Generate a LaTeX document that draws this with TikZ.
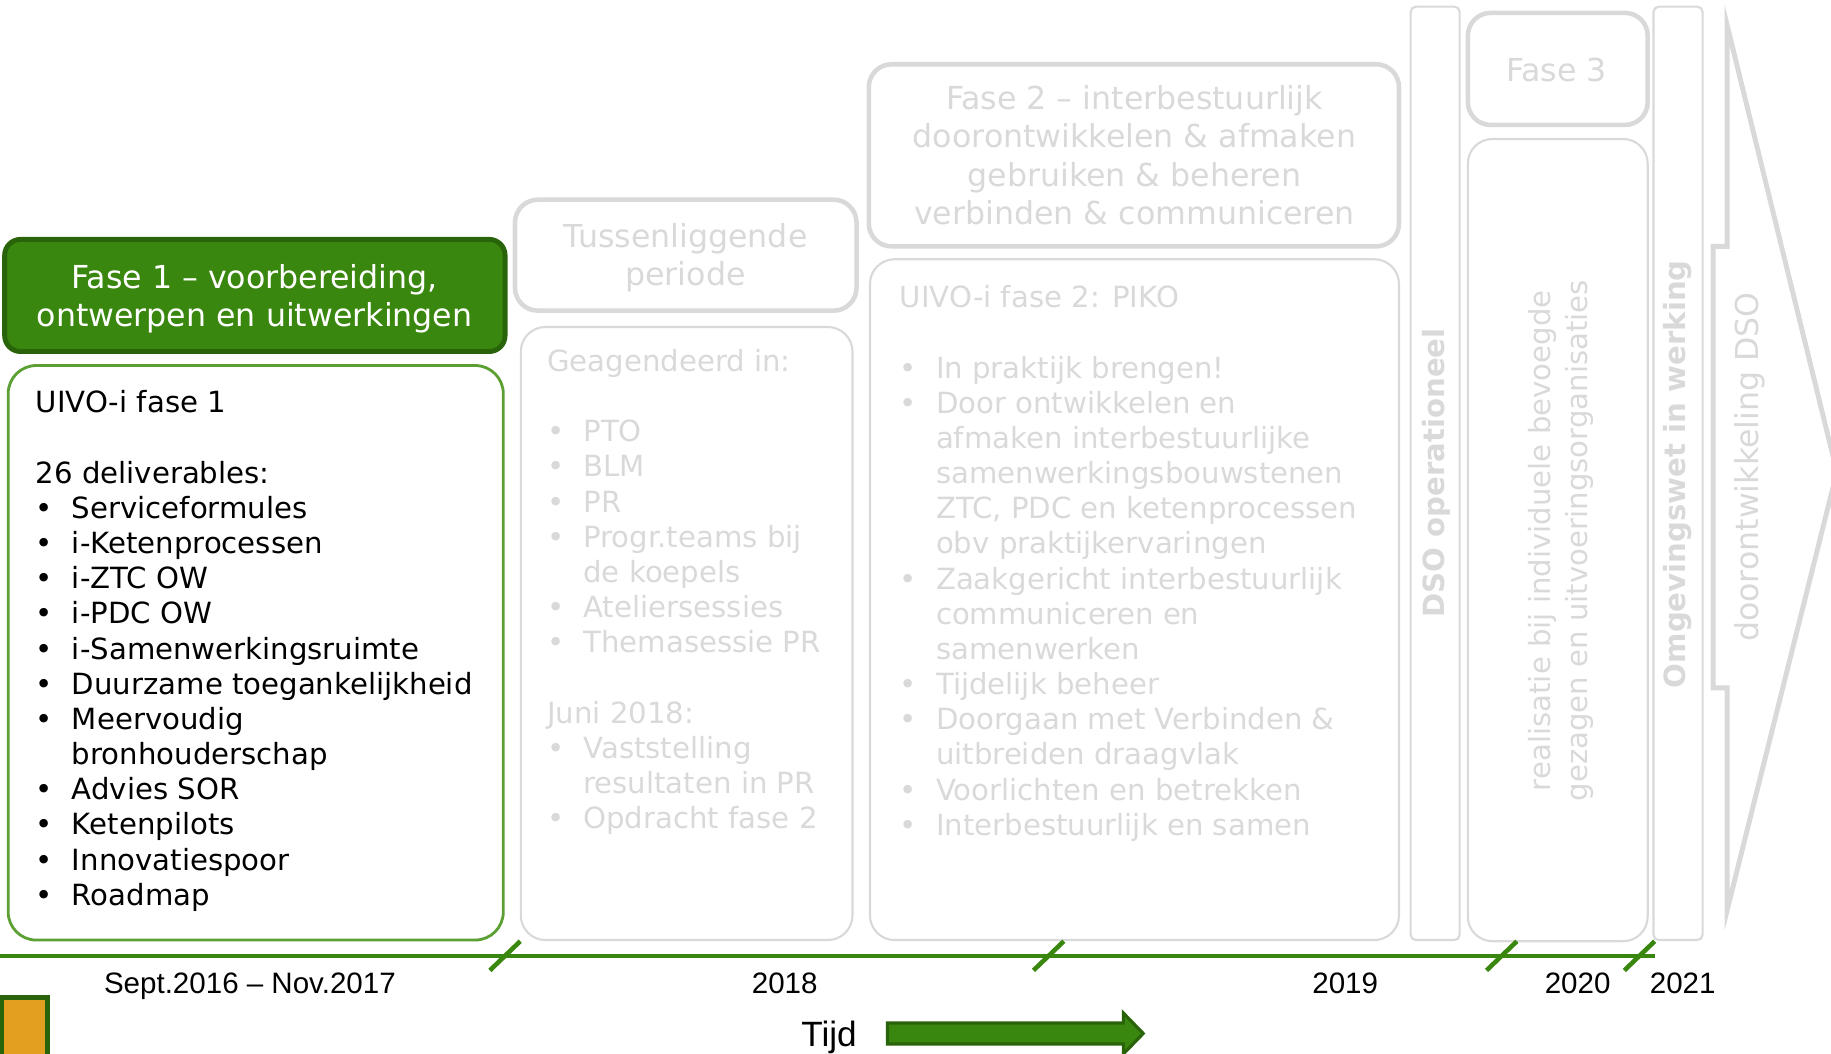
\documentclass[tikz,border=0pt]{standalone}
\usepackage{fontspec}
\setmainfont{DejaVu Sans}
\newfontfamily\arialfont{Liberation Sans}

\definecolor{groen}{RGB}{58,135,15}
\definecolor{donkergroen}{RGB}{42,100,10}
\definecolor{lichtgroen}{RGB}{92,160,52}
\definecolor{grijs}{RGB}{217,217,217}
\definecolor{oranje}{RGB}{227,160,32}

\newcommand{\bol}{\makebox[10.3pt][l]{\textbullet}}
\newcommand{\inspr}{\hspace*{10.3pt}}

\begin{document}
\begin{tikzpicture}[x=0.011677cm, y=-0.011677cm,
    kopgroen/.style={fill=groen, draw=donkergroen, line width=1.4pt, rounded corners=4.5pt},
    vakgroen/.style={draw=lichtgroen, line width=0.8pt, rounded corners=8pt},
    kopgrijs/.style={draw=grijs, line width=1.3pt, rounded corners=6.5pt},
    vakgrijs/.style={draw=grijs, line width=0.6pt, rounded corners=7pt},
    kolom/.style={draw=grijs, line width=0.6pt, rounded corners=1.5pt},
    koptekst/.style={font={\fontsize{9}{10.9}\selectfont}, align=center, inner sep=0pt},
    lijst/.style={font={\fontsize{8.3}{10}\selectfont}, align=left, inner sep=0pt, anchor=north west},
    jaar/.style={font={\arialfont\fontsize{8.4}{10}\selectfont}, anchor=base, inner sep=0pt},
    staand/.style={rotate=90, align=center, inner sep=0pt, text=grijs},
    tijdlijn/.style={draw=groen, line width=1.15pt},
    streep/.style={draw=groen, line width=1.3pt}]

    \useasboundingbox (0,0) rectangle (1568,902);

    % Fase 1
    \draw[kopgroen] (4,205) rectangle (432.5,301);
    \node[koptekst, text=white] (fase1kop) at (218,256) {Fase 1 – voorbereiding,\\ontwerpen en uitwerkingen};
    \draw[vakgroen] (7,313) rectangle (431,805);
    \node[lijst] (fase1lijst) at (30,334) {UIVO-i fase 1\\[10pt]
        26 deliverables:\\
        \bol Serviceformules\\
        \bol i-Ketenprocessen\\
        \bol i-ZTC OW\\
        \bol i-PDC OW\\
        \bol i-Samenwerkingsruimte\\
        \bol Duurzame toegankelijkheid\\
        \bol Meervoudig\\
        \inspr bronhouderschap\\
        \bol Advies SOR\\
        \bol Ketenpilots\\
        \bol Innovatiespoor\\
        \bol Roadmap};

    % Tussenliggende periode
    \draw[kopgrijs] (441,171) rectangle (733.5,266);
    \node[koptekst, text=grijs] (tussenkop) at (587,221) {Tussenliggende\\periode};
    \draw[vakgrijs] (446,280) rectangle (730,805);
    \node[lijst, text=grijs] (tussenlijst) at (468,298.5) {Geagendeerd in:\\[10pt]
        \bol PTO\\
        \bol BLM\\
        \bol PR\\
        \bol Progr.teams bij\\
        \inspr de koepels\\
        \bol Ateliersessies\\
        \bol Themasessie PR\\[10pt]
        Juni 2018:\\
        \bol Vaststelling\\
        \inspr resultaten in PR\\
        \bol Opdracht fase 2};

    % Fase 2
    \draw[kopgrijs] (744,55) rectangle (1198,211);
    \node[koptekst, text=grijs] (fase2kop) at (971.5,133) {Fase 2 – interbestuurlijk\\doorontwikkelen \& afmaken\\gebruiken \& beheren\\verbinden \& communiceren};
    \draw[vakgrijs] (745,222) rectangle (1198,805);
    \node[lijst, text=grijs] (fase2lijst) at (770,244) {UIVO-i fase 2: PIKO\\[10pt]
        \bol In praktijk brengen!\\
        \bol Door ontwikkelen en\\
        \inspr afmaken interbestuurlijke\\
        \inspr samenwerkingsbouwstenen\\
        \inspr ZTC, PDC en ketenprocessen\\
        \inspr obv praktijkervaringen\\
        \bol Zaakgericht interbestuurlijk\\
        \inspr communiceren en\\
        \inspr samenwerken\\
        \bol Tijdelijk beheer\\
        \bol Doorgaan met Verbinden \&\\
        \inspr uitbreiden draagvlak\\
        \bol Voorlichten en betrekken\\
        \bol Interbestuurlijk en samen};

    % DSO operationeel
    \draw[kolom] (1208,5.7) rectangle (1250,805);
    \node[staand, font={\bfseries\fontsize{8.3}{10}\selectfont}] (dso) at (1230,405) {DSO operationeel};

    % Fase 3
    \draw[kopgrijs] (1257,11) rectangle (1411,107);
    \node[koptekst, text=grijs] (fase3kop) at (1333,59.5) {Fase 3};
    \draw[vakgrijs] (1257,119) rectangle (1411,806);
    \node[staand, font={\fontsize{8.3}{10.45}\selectfont}] (realisatie) at (1337,463) {realisatie bij individuele bevoegde\\gezagen en uitvoeringsorganisaties};

    % Omgevingswet in werking
    \draw[kolom] (1416,5.7) rectangle (1458,805);
    \node[staand, font={\bfseries\fontsize{8.3}{10}\selectfont}] (omgwet) at (1437,406) {Omgevingswet in werking};

    % Doorontwikkeling DSO
    \draw[draw=grijs, line width=1.4pt] (1467,211) -- (1479,211) -- (1479,21.5) -- (1573,404) -- (1479,779.5) -- (1479,589) -- (1467,589) -- cycle;
    \node[staand, font={\fontsize{9}{11}\selectfont}] (doorontw) at (1498,400) {doorontwikkeling DSO};

    % Tijdlijn
    \coordinate (begin) at (0,818.7);
    \coordinate (eind) at (1417,818.7);
    \draw[tijdlijn] (begin) -- (eind);
    \draw[streep] (419.5,831) -- (445.5,806);
    \draw[streep] (885,831) -- (911,806);
    \draw[streep] (1273,831) -- (1299,806);
    \draw[streep] (1391,831) -- (1417,806);

    \node[jaar] (jaar1) at (214,851) {Sept.2016 – Nov.2017};
    \node[jaar] (jaar2) at (672,851) {2018};
    \node[jaar] (jaar3) at (1152,851) {2019};
    \node[jaar] (jaar4) at (1351,851) {2020};
    \node[jaar] (jaar5) at (1441,851) {2021};

    % Tijd
    \node[font={\arialfont\fontsize{10}{12}\selectfont}, anchor=base, inner sep=0pt] (tijd) at (710,896) {Tijd};
    \draw[fill=groen, draw=donkergroen, line width=0.9pt] (760,876) -- (962,876) -- (962,867.5) -- (979,885) -- (962,902.5) -- (962,894) -- (760,894) -- cycle;

    % Oranje blok
    \draw[fill=oranje, draw=donkergroen, line width=1.4pt] (1.5,854) rectangle (41,910);
\end{tikzpicture}
\end{document}
